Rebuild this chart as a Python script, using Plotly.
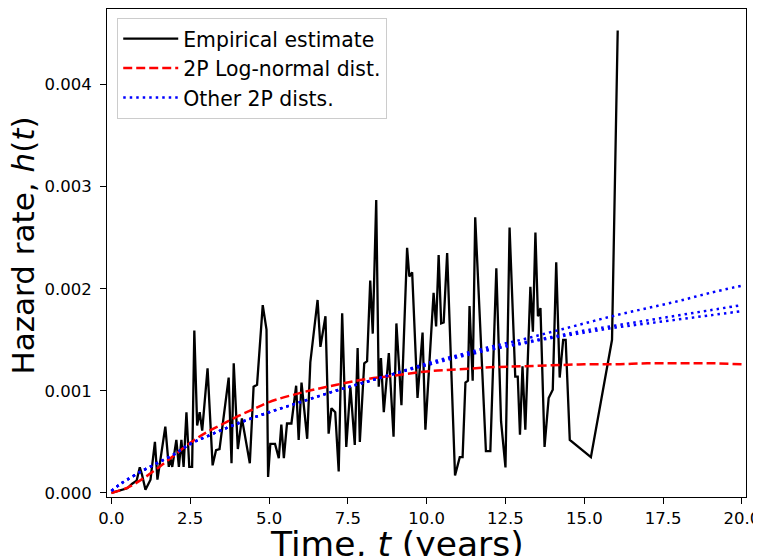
import plotly.graph_objects as go

# Empirical hazard estimate (t in years, h in units of 1e-3)
emp_t = [0.00, 0.30, 0.50, 0.66, 0.80, 0.90, 0.97, 1.08, 1.24, 1.38, 1.46, 1.71, 1.82, 1.87,
         1.93, 2.06, 2.14, 2.22, 2.29, 2.38, 2.47, 2.56, 2.63, 2.72, 2.80, 2.88, 3.05, 3.21,
         3.32, 3.43, 3.72, 3.81, 3.88, 4.01, 4.14, 4.39, 4.51, 4.62, 4.80, 4.92, 4.97, 5.04,
         5.19, 5.31, 5.39, 5.47, 5.57, 5.71, 5.86, 5.94, 6.03, 6.21, 6.31, 6.54, 6.63, 6.79,
         6.89, 6.98, 7.10, 7.21, 7.32, 7.45, 7.58, 7.72, 7.81, 7.88, 8.02, 8.11, 8.21, 8.29,
         8.40, 8.48, 8.55, 8.64, 8.80, 8.95, 9.04, 9.20, 9.38, 9.45, 9.54, 9.71, 9.87, 9.96,
         10.22, 10.30, 10.38, 10.46, 10.54, 10.65, 10.90, 11.05, 11.14, 11.23, 11.31, 11.36,
         11.46, 11.54, 11.70, 11.88, 12.02, 12.21, 12.36, 12.50, 12.63, 12.81, 12.89, 12.96,
         13.04, 13.13, 13.29, 13.37, 13.45, 13.53, 13.61, 13.74, 13.87, 14.00, 14.11, 14.22,
         14.33, 14.41, 14.54, 15.21, 15.88, 16.06]
emp_h = [0.000, 0.025, 0.045, 0.090, 0.120, 0.250, 0.180, 0.030, 0.130, 0.500, 0.130, 0.650, 0.255, 0.340,
         0.255, 0.520, 0.255, 0.520, 0.255, 0.790, 0.255, 0.255, 1.590, 0.660, 0.790, 0.610, 1.220, 0.270,
         0.420, 0.430, 1.130, 0.290, 1.270, 0.430, 0.730, 0.290, 1.040, 1.060, 1.840, 1.600, 0.157, 0.480,
         0.480, 0.340, 0.670, 0.340, 0.680, 0.680, 1.050, 0.520, 1.080, 0.530, 1.280, 1.890, 1.430, 1.730,
         0.580, 0.830, 0.790, 0.210, 1.760, 0.450, 1.040, 0.470, 1.420, 0.500, 1.270, 1.290, 2.080, 1.560,
         2.870, 1.040, 1.320, 0.790, 1.370, 0.550, 1.660, 0.860, 2.400, 2.120, 2.160, 0.930, 1.570, 0.620,
         1.960, 1.630, 2.330, 1.660, 1.670, 2.350, 0.170, 0.350, 0.350, 1.080, 1.100, 1.830,
         1.100, 2.700, 1.630, 0.410, 0.410, 2.200, 0.700, 0.250, 2.600, 1.140, 1.140, 0.570,
         1.240, 0.620, 2.020, 1.580, 2.550, 1.730, 1.810, 0.450, 0.930, 1.010, 2.260, 1.130,
         1.500, 1.500, 0.520, 0.350, 1.500, 4.530]

# 2P log-normal fitted hazard
ln_t = [0, 0.5, 1, 1.5, 2, 2.5, 3, 3.5, 4, 4.5, 5, 6, 7, 8, 9, 10, 11, 12, 13, 14, 15, 16, 17, 18, 19, 20]
ln_h = [0.0, 0.05, 0.14, 0.25, 0.37, 0.49, 0.59, 0.67, 0.75, 0.82, 0.89, 0.98, 1.05, 1.11, 1.15, 1.19,
        1.21, 1.23, 1.24, 1.25, 1.26, 1.26, 1.27, 1.27, 1.27, 1.26]

# Other 2P fitted hazards
oth_t = [0, 0.25, 0.5, 1, 1.5, 2, 2.5, 3, 4, 5, 6, 7, 8, 9, 10, 11, 12, 13, 14, 15, 16, 17, 18, 19, 20]
oth_h1 = [0.02, 0.08, 0.13, 0.22, 0.30, 0.38, 0.48, 0.55, 0.68, 0.79, 0.89, 0.99, 1.08, 1.17, 1.27,
          1.35, 1.43, 1.50, 1.58, 1.66, 1.74, 1.81, 1.88, 1.96, 2.03]
oth_h2 = [0.02, 0.08, 0.13, 0.22, 0.30, 0.38, 0.48, 0.55, 0.68, 0.79, 0.89, 0.99, 1.08, 1.17, 1.26,
          1.34, 1.41, 1.47, 1.53, 1.59, 1.64, 1.69, 1.74, 1.79, 1.84]
oth_h3 = [0.02, 0.08, 0.13, 0.22, 0.30, 0.38, 0.48, 0.55, 0.68, 0.79, 0.89, 0.99, 1.08, 1.17, 1.25,
          1.33, 1.40, 1.46, 1.52, 1.57, 1.62, 1.66, 1.70, 1.74, 1.78]

x_ticks = [0, 2.5, 5, 7.5, 10, 12.5, 15, 17.5, 20]
y_ticks = [0.0, 0.001, 0.002, 0.003, 0.004]
x_title = "Time, <i>t</i> (years)"
y_title = "Hazard rate, <i>h</i>(<i>t</i>)"

def sc(v):
    return [a / 1000.0 for a in v]

FONT = "DejaVu Sans"
fig = go.Figure()
fig.add_trace(go.Scatter(x=emp_t, y=sc(emp_h), mode="lines", name="Empirical estimate",
                         line=dict(color="black", width=2.3)))
fig.add_trace(go.Scatter(x=ln_t, y=sc(ln_h), mode="lines", name="2P Log-normal dist.",
                         line=dict(color="red", width=2.5, dash="9px,4px", shape="spline")))
for i, hv in enumerate([oth_h1, oth_h2, oth_h3]):
    fig.add_trace(go.Scatter(x=oth_t, y=sc(hv), mode="lines", name="Other 2P dists.",
                             legendgroup="oth", showlegend=(i == 0),
                             line=dict(color="blue", width=2.5, dash="2.5px,4px", shape="spline")))

axis_common = dict(showline=True, linecolor="black", linewidth=1.1, mirror=True,
                   ticks="outside", ticklen=6, tickwidth=1.1, tickcolor="black",
                   showgrid=False, zeroline=False,
                   tickfont=dict(family=FONT, size=16.5, color="black"))

fig.update_xaxes(range=[-0.14, 20.13], tickvals=x_ticks, tickformat=".1f", ticklabelstandoff=0,
                 **axis_common)
fig.update_yaxes(range=[-0.00004, 0.00474], tickvals=y_ticks, tickformat=".3f", ticklabelstandoff=5,
                 **axis_common)

# axis titles as annotations so they can sit exactly where the reference puts them
fig.add_annotation(text=x_title, xref="paper", yref="paper", x=0.454, y=-0.052,
                   xanchor="center", yanchor="top", showarrow=False,
                   font=dict(family=FONT, size=34.5, color="black"))
fig.add_annotation(text=y_title, xref="paper", yref="paper", x=-0.131, y=0.516,
                   xanchor="center", yanchor="middle", textangle=-90, showarrow=False,
                   font=dict(family=FONT, size=31, color="black"))

# the page body adds an 8px offset; margins compensate so the plot area lands at x 107-746, y 9-497
fig.update_layout(
    width=761, height=556,
    margin=dict(l=99, r=23, t=1, b=67, autoexpand=False),
    plot_bgcolor="white", paper_bgcolor="white",
    font=dict(family=FONT, color="black"),
    legend=dict(x=0.016, y=0.982, xanchor="left", yanchor="top",
                bgcolor="rgba(255,255,255,0.8)", bordercolor="#cccccc", borderwidth=1,
                itemwidth=55,
                font=dict(family=FONT, size=20.4, color="black"), tracegroupgap=0),
    showlegend=True,
)

fig.write_html("out.html")
